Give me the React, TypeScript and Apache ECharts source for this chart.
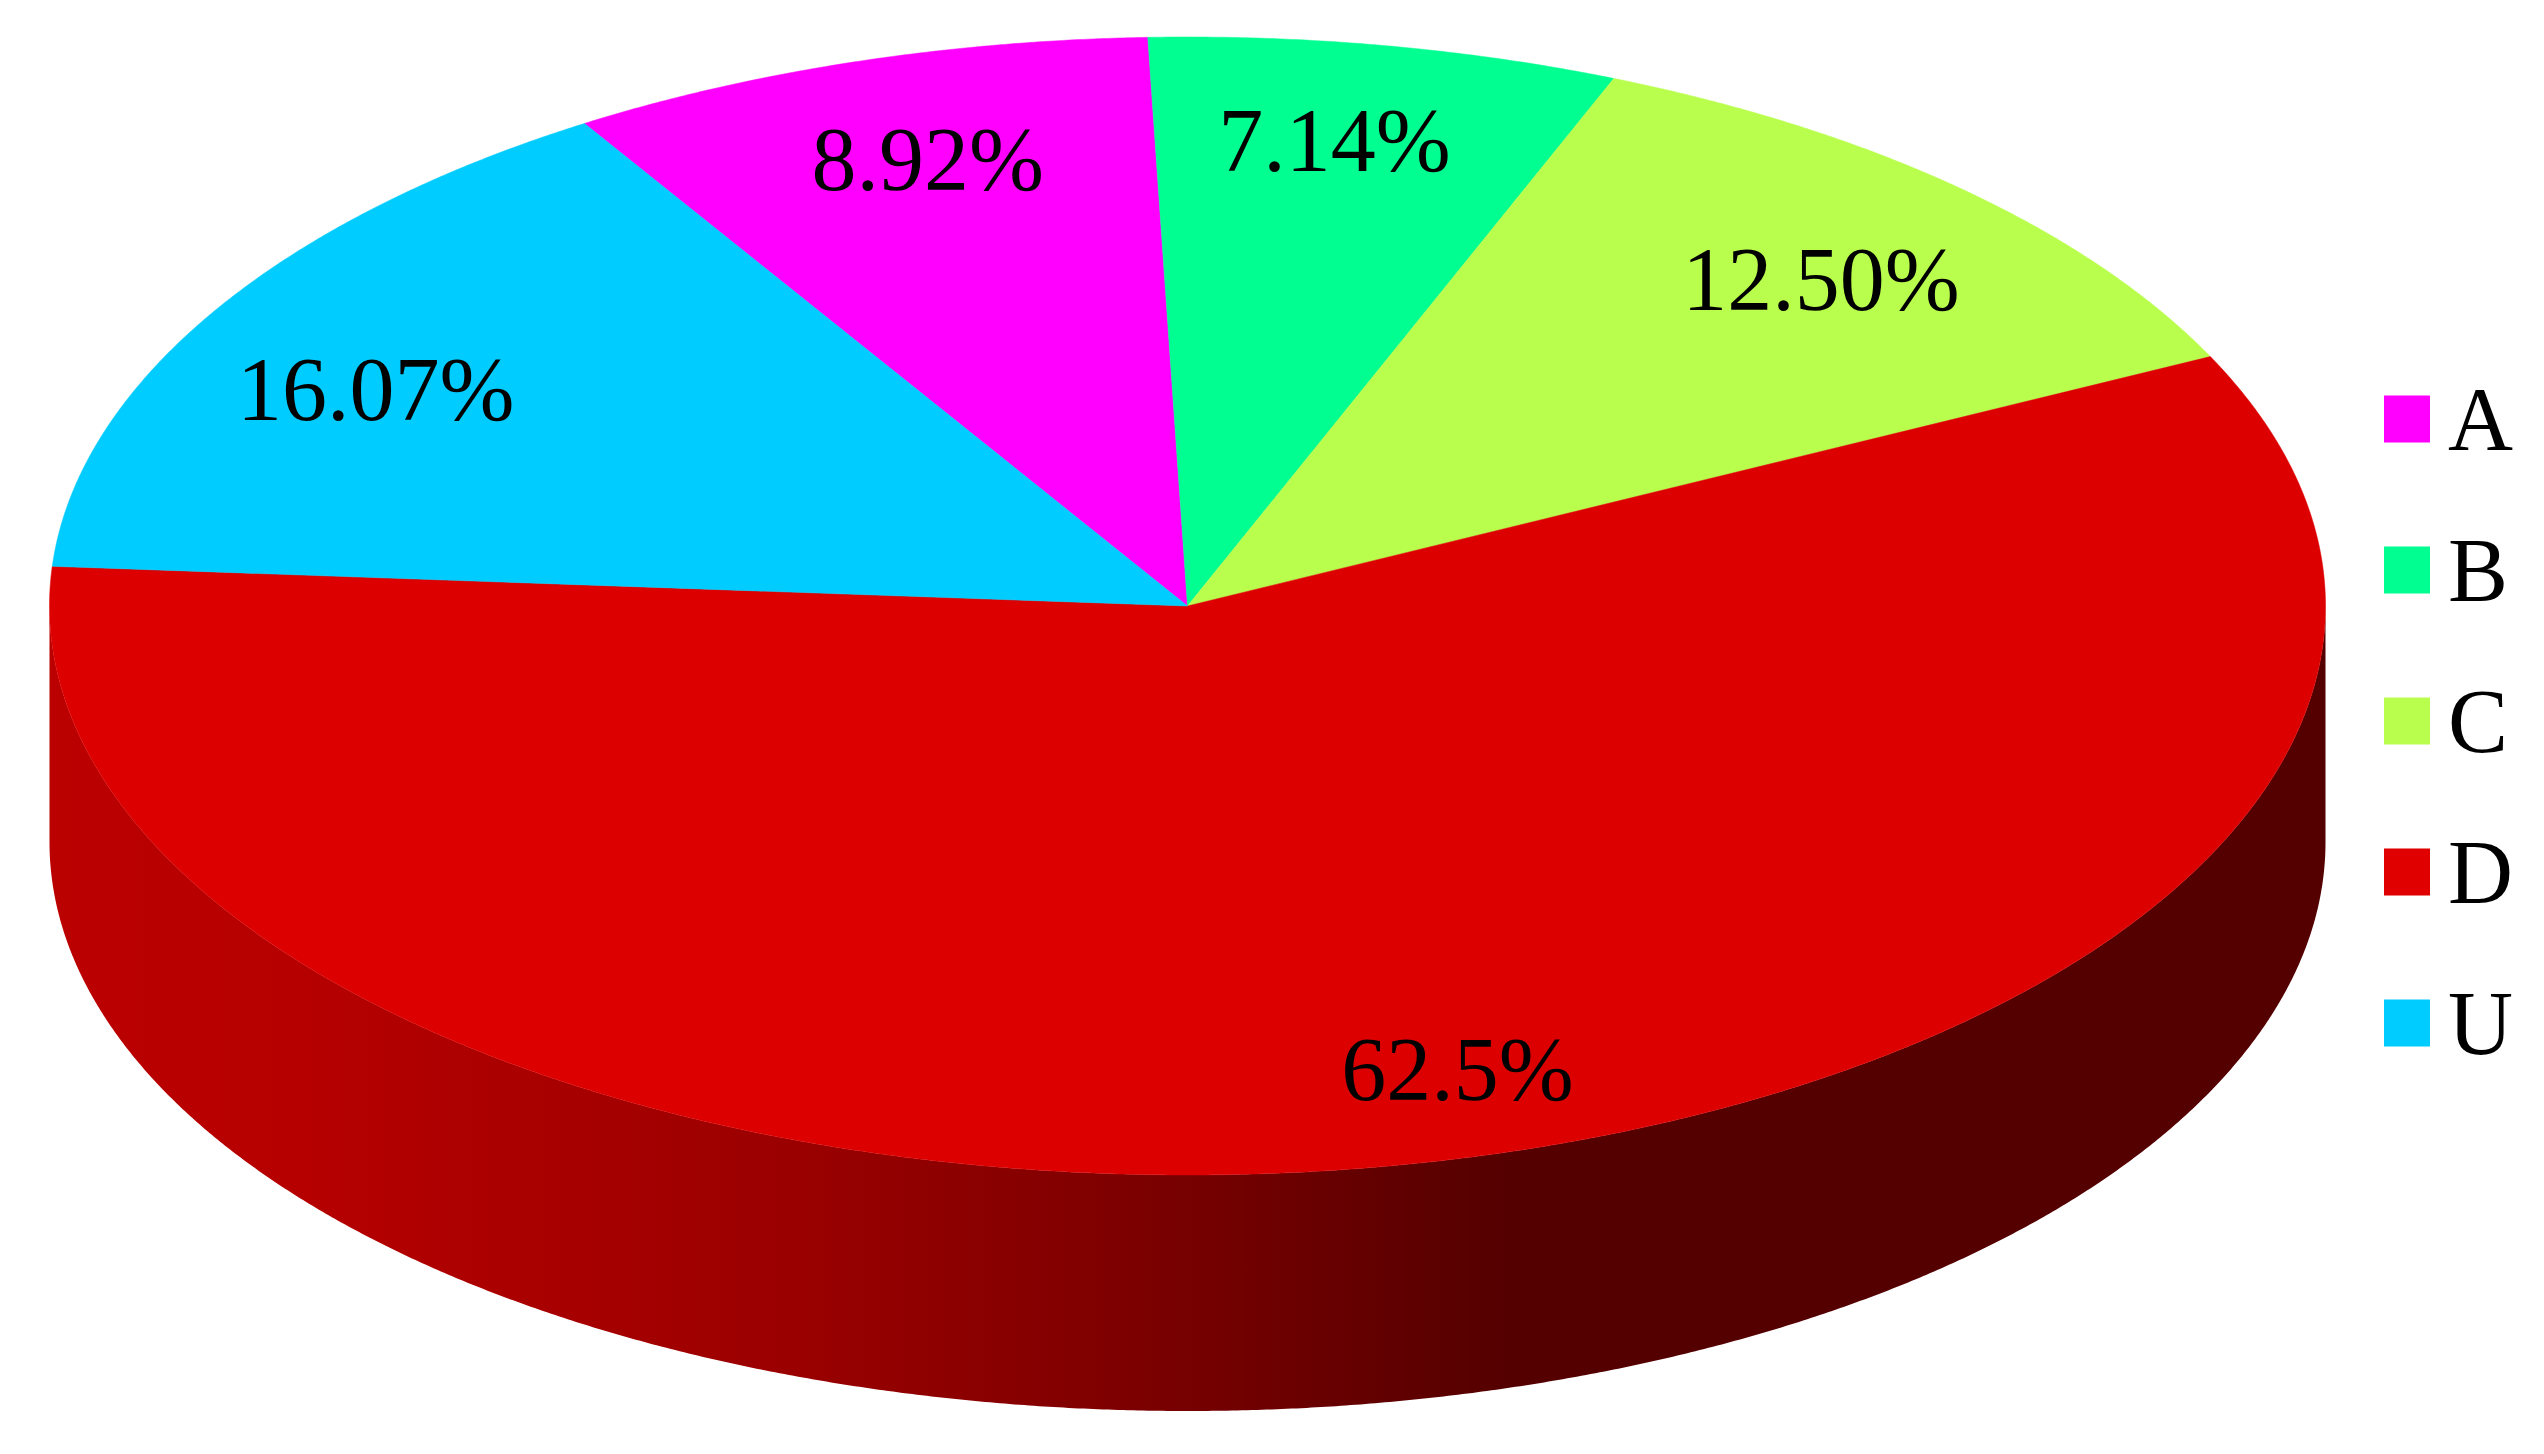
import React, { useEffect, useRef } from "react";
import * as echarts from "echarts";

const categories = ["A", "B", "C", "D", "U"];
// Angular weights of the slices
const sliceValues = [10, 8, 14, 70, 18];
// Printed labels (they do not follow the slice sizes in the original)
const sliceLabels = ["8.92%", "7.14%", "12.50%", "62.5%", "16.07%"];
const sliceColors = ["#ff00ff", "#00ff90", "#b9fe4d", "#dc0000", "#00ccff"];
const legendColors = ["#ff00ff", "#00ff90", "#b9fe4d", "#e00000", "#00ccff"];
const labelNudges = [[13, 0], [-15, -6], [-3, 15], [92, 5], [-12, 24]];

const CX = 1187.5;
const CY = 606;
const RX = 1138;
const RY = 569;
const DEPTH = 236;
const START_DEG = 328;
const TOTAL = sliceValues.reduce((a, b) => a + b, 0);
const FONT = '"Liberation Serif", "Times New Roman", serif';

const pt = (deg: number, r = 1, dy = 0): number[] => {
  const a = (deg * Math.PI) / 180;
  return [CX + RX * r * Math.sin(a), CY + dy - RY * r * Math.cos(a)];
};

const sliceRender = (index: number) => (_p: any, api: any) => {
  const before = sliceValues.slice(0, index).reduce((a, b) => a + b, 0);
  const start = START_DEG + (before / TOTAL) * 360;
  const sweep = (api.value(0) / TOTAL) * 360;
  const points: number[][] = [[CX, CY]];
  const steps = Math.ceil(sweep * 4);
  for (let i = 0; i <= steps; i++) points.push(pt(start + (sweep * i) / steps));
  const mid = pt(start + sweep / 2, 0.82);
  return {
    type: "group",
    children: [
      {
        type: "polygon",
        shape: { points },
        style: { fill: sliceColors[index], stroke: sliceColors[index], lineWidth: 0.5 },
      },
      {
        type: "text",
        style: {
          text: sliceLabels[index],
          x: mid[0] + labelNudges[index][0],
          y: mid[1] + labelNudges[index][1],
          align: "center",
          verticalAlign: "middle",
          fill: "#000000",
          fontSize: 90,
          fontFamily: FONT,
        },
      },
    ],
  };
};

const wallRender = () => {
  const points: number[][] = [];
  for (let d = 90; d <= 270; d += 0.25) points.push(pt(d, 1, DEPTH));
  for (let d = 270; d >= 90; d -= 0.25) points.push(pt(d, 1, 0));
  return {
    type: "polygon",
    shape: { points },
    style: {
      fill: new echarts.graphic.LinearGradient(0, 0, 1, 0, [
        { offset: 0, color: "#bb0000" },
        { offset: 0.11, color: "#b60000" },
        { offset: 0.33, color: "#9a0000" },
        { offset: 0.462, color: "#800000" },
        { offset: 0.638, color: "#550000" },
        { offset: 1, color: "#550000" },
      ]),
    },
  };
};

export default function App() {
  const ref = useRef<HTMLDivElement>(null);
  useEffect(() => {
    const chart = echarts.init(ref.current!, null, { renderer: "svg" });
    chart.setOption({
      animation: false,
      backgroundColor: "#ffffff",
      legend: {
        data: categories,
        orient: "vertical",
        left: 2379,
        top: 364,
        icon: "rect",
        itemWidth: 46,
        itemHeight: 47,
        itemGap: 51,
        selectedMode: false,
        textStyle: {
          fontFamily: FONT,
          fontSize: 90,
          color: "#000000",
          lineHeight: 100,
          padding: [0, 0, 0, 13],
        },
      },
      series: [
        {
          type: "custom",
          name: "wall",
          coordinateSystem: "none",
          silent: true,
          renderItem: wallRender,
          data: [[0]],
        },
        ...categories.map((name, i) => ({
          type: "custom",
          name,
          coordinateSystem: "none",
          silent: true,
          itemStyle: { color: legendColors[i] },
          renderItem: sliceRender(i),
          data: [[sliceValues[i]]],
        })),
      ],
    });
    return () => chart.dispose();
  }, []);
  return (
    <div
      ref={ref}
      style={{ position: "fixed", left: 0, top: 0, width: 2544, height: 1454 }}
    />
  );
}
